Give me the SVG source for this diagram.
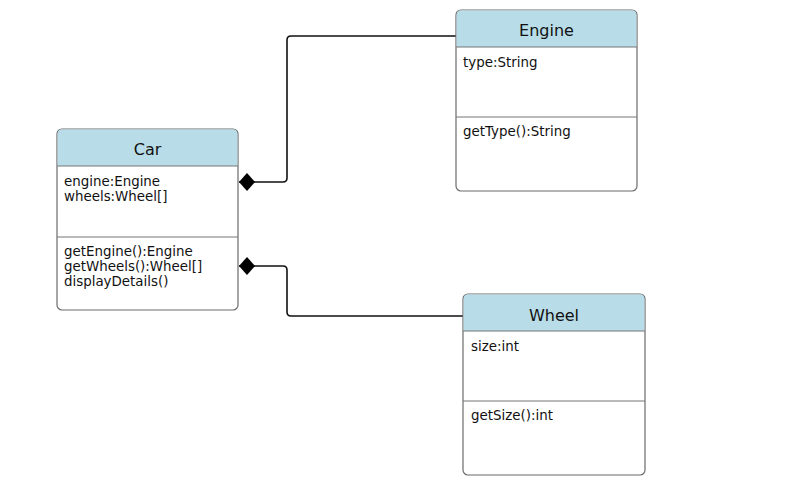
<svg xmlns="http://www.w3.org/2000/svg" width="800" height="501" viewBox="0 0 800 501">
<defs>
<style>
.box{fill:#fff;stroke:#6b6b6b;stroke-width:1.2}
.hdr{fill:#b8dde8;stroke:none}
.sep{stroke:#777;stroke-width:1.2}
.title{font-family:"DejaVu Sans",Verdana,sans-serif;font-size:16px;fill:#111;text-anchor:middle}
.txt{font-family:"DejaVu Sans",Verdana,sans-serif;font-size:13.4px;fill:#111}
.conn{fill:none;stroke:#111;stroke-width:1.6}
</style>
<marker id="diamond" viewBox="0 0 18 20" refX="1" refY="10" markerWidth="18" markerHeight="20" markerUnits="userSpaceOnUse" orient="auto">
<path d="M1,10 L9,1 L17,10 L9,19 Z" fill="#000"/>
</marker>
</defs>
<rect width="800" height="501" fill="#fff"/>
<g id="connectors">
<path class="conn" marker-start="url(#diamond)" d="M239,182 L283,182 Q287,182 287,178 L287,40 Q287,36 291,36 L456,36"/>
<path class="conn" marker-start="url(#diamond)" d="M239,266 L283,266 Q287,266 287,270 L287,312 Q287,316 291,316 L463,316"/>
</g>
<g id="car">
<rect class="box" x="57" y="129" width="181" height="181" rx="5"/>
<path class="hdr" d="M62,129.6 L233,129.6 Q237.4,129.6 237.4,134 L237.4,166 L57.6,166 L57.6,134 Q57.6,129.6 62,129.6 Z"/>
<line class="sep" x1="57" y1="166" x2="238" y2="166"/>
<line class="sep" x1="57" y1="237" x2="238" y2="237"/>
<text class="title" x="147.5" y="155">Car</text>
<text class="txt" x="64" y="186">engine:Engine</text>
<text class="txt" x="64" y="201">wheels:Wheel[]</text>
<text class="txt" x="64" y="256">getEngine():Engine</text>
<text class="txt" x="64" y="271">getWheels():Wheel[]</text>
<text class="txt" x="64" y="286">displayDetails()</text>
</g>
<g id="engine">
<rect class="box" x="456" y="10" width="181" height="181" rx="5"/>
<path class="hdr" d="M461,10.6 L632,10.6 Q636.4,10.6 636.4,15 L636.4,47 L456.6,47 L456.6,15 Q456.6,10.6 461,10.6 Z"/>
<line class="sep" x1="456" y1="47" x2="637" y2="47"/>
<line class="sep" x1="456" y1="117" x2="637" y2="117"/>
<text class="title" x="546.5" y="36">Engine</text>
<text class="txt" x="463" y="66.5">type:String</text>
<text class="txt" x="463" y="136">getType():String</text>
</g>
<g id="wheel">
<rect class="box" x="463" y="294" width="182" height="181" rx="5"/>
<path class="hdr" d="M468,294.6 L640,294.6 Q644.4,294.6 644.4,299 L644.4,331 L463.6,331 L463.6,299 Q463.6,294.6 468,294.6 Z"/>
<line class="sep" x1="463" y1="331" x2="645" y2="331"/>
<line class="sep" x1="463" y1="401" x2="645" y2="401"/>
<text class="title" x="554" y="321">Wheel</text>
<text class="txt" x="471" y="350.5">size:int</text>
<text class="txt" x="471" y="420">getSize():int</text>
</g>
</svg>
